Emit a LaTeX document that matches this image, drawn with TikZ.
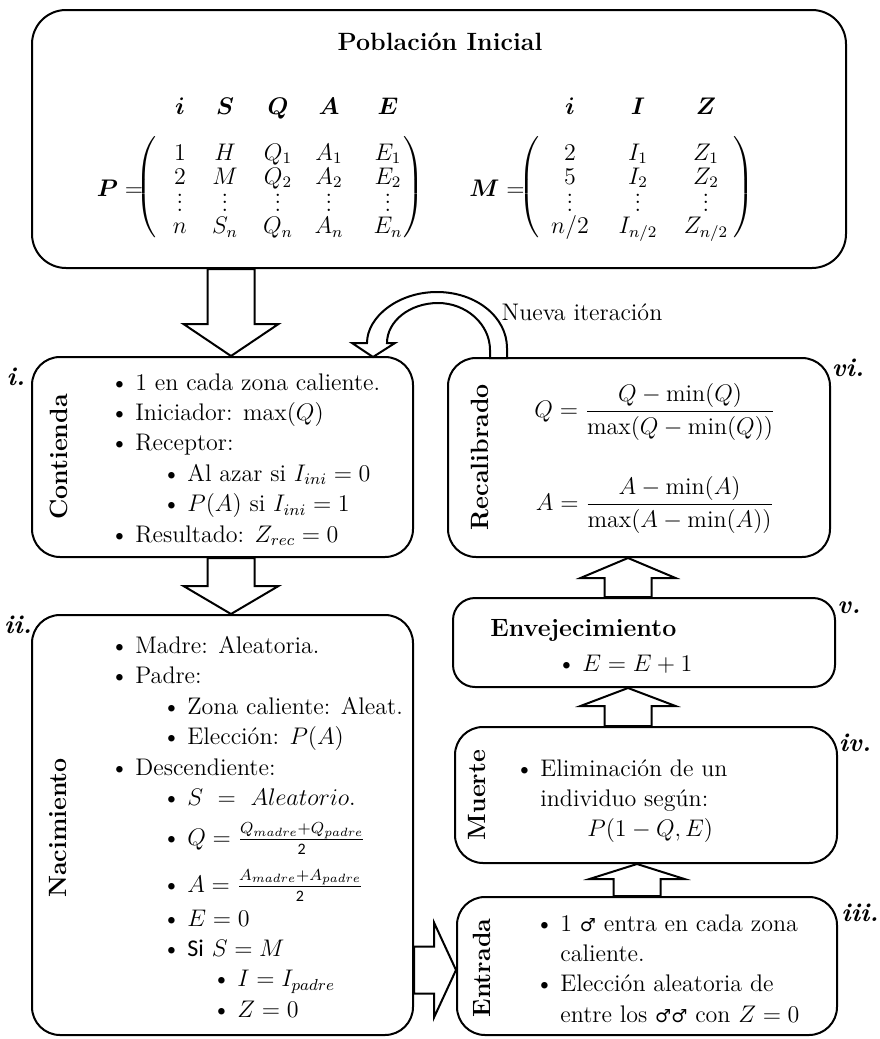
\documentclass[tikz,border=0pt]{standalone}
\usepackage{amsmath}
\usepackage{fontspec}
\newfontfamily\carl{Carlito}
\newfontfamily\simb{DejaVu Sans}
\usetikzlibrary{positioning,fit,calc}
\newcommand{\bul}[1]{\makebox[12.5pt][l]{\textbullet}#1}
\newcommand{\macho}{{\simb\fontsize{9}{12}\selectfont ♂}}
\newcommand{\pts}{\vbox{\baselineskip=3.6pt\lineskiplimit=0pt\hbox{.}\hbox{.}\hbox{.}}}
\newcommand{\parizq}{$\left(\vcenter{\hbox{\rule{0pt}{48pt}}}\right.$}
\newcommand{\parder}{$\left.\vcenter{\hbox{\rule{0pt}{48pt}}}\right)$}
% flecha de bloque: inicio, punta, largo de la punta
\newcommand{\flechabloque}[3]{%
  \coordinate (hb) at ($(#2)!#3!(#1)$);
  \draw[blk] ($(#1)!11.75pt!90:(#2)$) -- ($(hb)!11.75pt!90:(#2)$)
    -- ($(hb)!23.75pt!90:(#2)$) -- (#2) -- ($(hb)!23.75pt!-90:(#2)$)
    -- ($(hb)!11.75pt!-90:(#2)$) -- ($(#1)!11.75pt!-90:(#2)$) -- cycle;}

\begin{document}
\begin{tikzpicture}[x=0.5pt,y=-0.5pt,
  every node/.style={font=\fontsize{12}{15.2}\selectfont},
  etapa/.style={draw,line width=1pt,rounded corners=14pt,inner sep=0pt},
  titulo/.style={font=\fontsize{12.5}{15}\selectfont\bfseries},
  rot/.style={titulo,rotate=90},
  num/.style={font=\fontsize{13}{15}\selectfont\bfseries\itshape},
  lista/.style={align=left,inner sep=0pt,anchor=north west},
  cel/.style={inner sep=0pt,anchor=base},
  blk/.style={draw,fill=white,line width=1pt,line join=miter},
  curva/.style={draw,fill=white,line width=1pt}
]
\useasboundingbox (0,0) rectangle (879,1039);

% cajas
\node[etapa,rounded corners=17pt,fit={(32,10)(846,268)}] (pob) {};
\node[etapa,fit={(32,357)(413,557)}] (cont) {};
\node[etapa,fit={(32,615)(413,1035)}] (nac) {};
\node[etapa,fit={(448,358)(830,557)}] (recal) {};
\node[etapa,rounded corners=11pt,fit={(453,598)(835,687)}] (env) {};
\node[etapa,fit={(455,727)(837,863)}] (muerte) {};
\node[etapa,fit={(457,897)(837,1035)}] (entr) {};

% flechas
\coordinate (ejeA) at (231,0);
\coordinate (ejeB) at (628,0);
\coordinate (ejeC) at (637,0);
\coordinate (ejeD) at (0,970);
\flechabloque{pob.south -| ejeA}{cont.north -| ejeA}{16pt}
\flechabloque{cont.south -| ejeA}{nac.north -| ejeA}{14pt}
\flechabloque{nac.east |- ejeD}{entr.west |- ejeD}{11pt}
\flechabloque{entr.north -| ejeC}{muerte.south -| ejeC}{7.5pt}
\flechabloque{muerte.north -| ejeB}{env.south -| ejeB}{9pt}
\flechabloque{env.north -| ejeB}{recal.south -| ejeB}{10pt}
\draw[curva] (507,358) -- (507,348) .. controls (507,317) and (476,292) .. (437,292)
  .. controls (398,292) and (367,317) .. (367,343) -- (352,343) -- (373,357) -- (395,343)
  -- (387,343) .. controls (387,321) and (410,303) .. (438,303)
  .. controls (466,303) and (490,324) .. (490,350) -- (490,358) -- cycle;
\node (tnueva) at (582,312) {Nueva iteración};

% poblacion inicial
\node[titulo] (tpob) at (440,42) {Población Inicial};
\foreach \x/\h/\a/\b/\z [count=\c] in {180/i/1/2/n,225/S/H/M/S_n,278/Q/Q_1/Q_2/Q_n,
                                       329/A/A_1/A_2/A_n,388/E/E_1/E_2/E_n} {
  \node[cel] (Ph-\c) at (\x,114) {$\boldsymbol{\h}$};
  \node[cel] (P1-\c) at (\x,160) {$\a$};
  \node[cel] (P2-\c) at (\x,184) {$\b$};
  \node[cel] (P3-\c) at (\x,211) {$\pts$};
  \node[cel] (P4-\c) at (\x,233.5) {$\z$};
}
\node (Pizq) at (147,187) {\parizq};
\node (Pder) at (413,187) {\parder};
\node (Peq) at (120,188) {$\boldsymbol{P} =$};
\foreach \x/\h/\a/\b/\z [count=\c] in {570/i/2/5/{n/2},638/I/I_1/I_2/{I_{n/2}},706/Z/Z_1/Z_2/{Z_{n/2}}} {
  \node[cel] (Mh-\c) at (\x,114) {$\boldsymbol{\h}$};
  \node[cel] (M1-\c) at (\x,160) {$\a$};
  \node[cel] (M2-\c) at (\x,184) {$\b$};
  \node[cel] (M3-\c) at (\x,211) {$\pts$};
  \node[cel] (M4-\c) at (\x,233.5) {$\z$};
}
\node (Mizq) at (530,187) {\parizq};
\node (Mder) at (743,187) {\parder};
\node (Meq) at (497,188) {$\boldsymbol{M} =$};

% i. contienda
\node[num] (n1) at (16,377) {i.};
\node[rot] (lcont) at (59,457) {Contienda};
\node[lista] (tcont) at (110,373) {\bul{1 en cada zona caliente.}\\
  \bul{Iniciador: $\max(Q)$}\\
  \bul{Receptor:}\\
  \hspace*{26pt}\bul{Al azar si $I_{ini}=0$}\\
  \hspace*{26pt}\bul{$P(A)$ si $I_{ini}=1$}\\
  \bul{Resultado: $Z_{rec}=0$}};

% ii. nacimiento
\node[num] (n2) at (18,625) {ii.};
\node[rot] (lnac) at (58,828) {Nacimiento};
\node[lista] (tnac) at (110,636) {\bul{Madre: Aleatoria.}\\
  \bul{Padre:}\\
  \hspace*{26pt}\bul{Zona caliente: Aleat.}\\
  \hspace*{26pt}\bul{Elección: $P(A)$}\\
  \bul{Descendiente:}\\
  \hspace*{26pt}\bul{$S\ =\ Aleatorio.$}\\[5pt]
  \hspace*{26pt}\bul{$Q=\frac{Q_{madre}+Q_{padre}}{\text{\carl 2}}$}\\[6.5pt]
  \hspace*{26pt}\bul{$A=\frac{A_{madre}+A_{padre}}{\text{\carl 2}}$}\\[1.5pt]
  \hspace*{26pt}\bul{$E=0$}\\
  \hspace*{26pt}\bul{{\carl Si} $S=M$}\\
  \hspace*{51pt}\bul{$I=I_{padre}$}\\
  \hspace*{51pt}\bul{$Z=0$}};

% iii. entrada
\node[num] (n3) at (860,913) {iii.};
\node[rot] (lentr) at (482,968) {Entrada};
\node[lista] (tentr) at (535,914) {\bul{1 \macho{} entra en cada zona}\\
  \hspace*{12.5pt}caliente.\\
  \bul{Elección aleatoria de}\\
  \hspace*{12.5pt}entre los \macho\macho{} con $Z=0$};

% iv. muerte
\node[num] (n4) at (855,743) {iv.};
\node[rot] (lmuerte) at (477,795) {Muerte};
\node[lista] (tmuerte) at (515,759) {\bul{Eliminación de un}\\
  \hspace*{12.5pt}individuo según:\\
  \hspace*{36pt}$P(1-Q,E)$};

% v. envejecimiento
\node[num] (n5) at (849,608) {v.};
\node[titulo,anchor=base west,inner sep=0pt] (tenv) at (490,636) {Envejecimiento};
\node[anchor=base west,inner sep=0pt] (tenv2) at (557,671) {\bul{$E=E+1$}};

% vi. recalibrado
\node[num] (n6) at (848,368) {vi.};
\node[rot] (lrecal) at (480,457) {Recalibrado};
\node (eqQ) at (655,412) {$Q=\dfrac{Q-\min(Q)}{\max(Q-\min(Q))}$};
\node (eqA) at (655,505) {$A=\dfrac{A-\min(A)}{\max(A-\min(A))}$};
\end{tikzpicture}
\end{document}
